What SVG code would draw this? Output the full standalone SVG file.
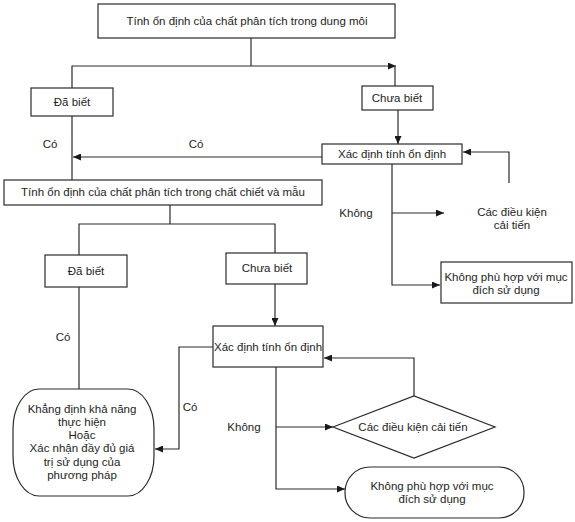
<svg xmlns="http://www.w3.org/2000/svg" width="575" height="522" viewBox="0 0 575 522">
<defs>
<marker id="arr" markerUnits="userSpaceOnUse" markerWidth="8" markerHeight="7" refX="8" refY="3.5" orient="auto">
<path d="M0,0 L8,3.5 L0,7 z" fill="#1a1a1a"/>
</marker>
<style>
.box{fill:#fff;stroke:#2a2a2a;stroke-width:1.2}
.t{font-family:"Liberation Sans",Arial,sans-serif;font-size:11.5px;fill:#1e1e1e;text-anchor:middle}
.c{fill:none;stroke:#2a2a2a;stroke-width:1.2}
.a{marker-end:url(#arr)}
</style>
</defs>
<rect width="575" height="522" fill="#fff"/>
<g id="connectors">
<path class="c" d="M251 38 V66"/>
<path class="c a" d="M72 88 V66 H396"/>
<path class="c" d="M395 66 V86"/>
<path class="c a" d="M398 110 V144"/>
<path class="c a" d="M322 157 H73"/>
<path class="c" d="M72 116 V180"/>
<path class="c a" d="M392 164 V285 H440"/>
<path class="c a" d="M392 213 H444"/>
<path class="c a" d="M509 183 V152 H463"/>
<path class="c" d="M170 205 V224"/>
<path class="c" d="M79 255 V224 H275 V253"/>
<path class="c a" d="M275 284 V326"/>
<path class="c" d="M79 287 V389"/>
<path class="c a" d="M213 347 H179 V449 H155"/>
<path class="c a" d="M276 367 V489 H345"/>
<path class="c a" d="M276 427 H333"/>
<path class="c a" d="M414 396 V358 H324"/>
<text class="t" x="50" y="148">Có</text>
<text class="t" x="196" y="148">Có</text>
<text class="t" x="356" y="217">Không</text>
<text class="t" x="63" y="341">Có</text>
<text class="t" x="190" y="411">Có</text>
<text class="t" x="244" y="431">Không</text>
</g>
<g id="n1"><rect class="box" x="98" y="4" width="297" height="34"/><text class="t" x="247" y="25">Tính ổn định của chất phân tích trong dung môi</text></g>
<g id="n2"><rect class="box" x="31" y="88" width="82" height="28"/><text class="t" x="72" y="106">Đã biết</text></g>
<g id="n3"><rect class="box" x="362" y="86" width="71" height="24"/><text class="t" x="397" y="102">Chưa biết</text></g>
<g id="n4"><rect class="box" x="322" y="144" width="140" height="20"/><text class="t" x="392" y="158">Xác định tính ổn định</text></g>
<g id="n5"><text class="t" x="512" y="216">Các điều kiện</text><text class="t" x="512" y="229">cải tiến</text></g>
<g id="n6"><rect class="box" x="441" y="262" width="131" height="41"/><text class="t" x="506" y="281">Không phù hợp với mục</text><text class="t" x="506" y="294">đích sử dụng</text></g>
<g id="n7"><rect class="box" x="4" y="180" width="318" height="25"/><text class="t" x="163" y="196">Tính ổn định của chất phân tích trong chất chiết và mẫu</text></g>
<g id="n8"><rect class="box" x="45" y="255" width="82" height="32"/><text class="t" x="86" y="275">Đã biết</text></g>
<g id="n9"><rect class="box" x="226" y="253" width="81" height="31"/><text class="t" x="267" y="272">Chưa biết</text></g>
<g id="n10"><rect class="box" x="213" y="326" width="110" height="41"/><text class="t" x="268" y="351">Xác định tính ổn định</text></g>
<g id="n11"><rect class="box" x="13" y="389" width="141" height="107" rx="26" ry="40"/>
<text class="t" x="82" y="413">Khẳng định khả năng</text>
<text class="t" x="82" y="426">thực hiện</text>
<text class="t" x="82" y="439">Hoặc</text>
<text class="t" x="82" y="452">Xác nhận đầy đủ giá</text>
<text class="t" x="82" y="466">trị sử dụng của</text>
<text class="t" x="82" y="479">phương pháp</text></g>
<g id="n12"><polygon class="box" points="333,427 414,396 495,427 414,458"/><text class="t" x="413" y="431">Các điều kiện cải tiến</text></g>
<g id="n13"><rect class="box" x="345" y="467" width="179" height="51" rx="25" ry="25"/><text class="t" x="432" y="490">Không phù hợp với mục</text><text class="t" x="432" y="503">đích sử dụng</text></g>
</svg>
